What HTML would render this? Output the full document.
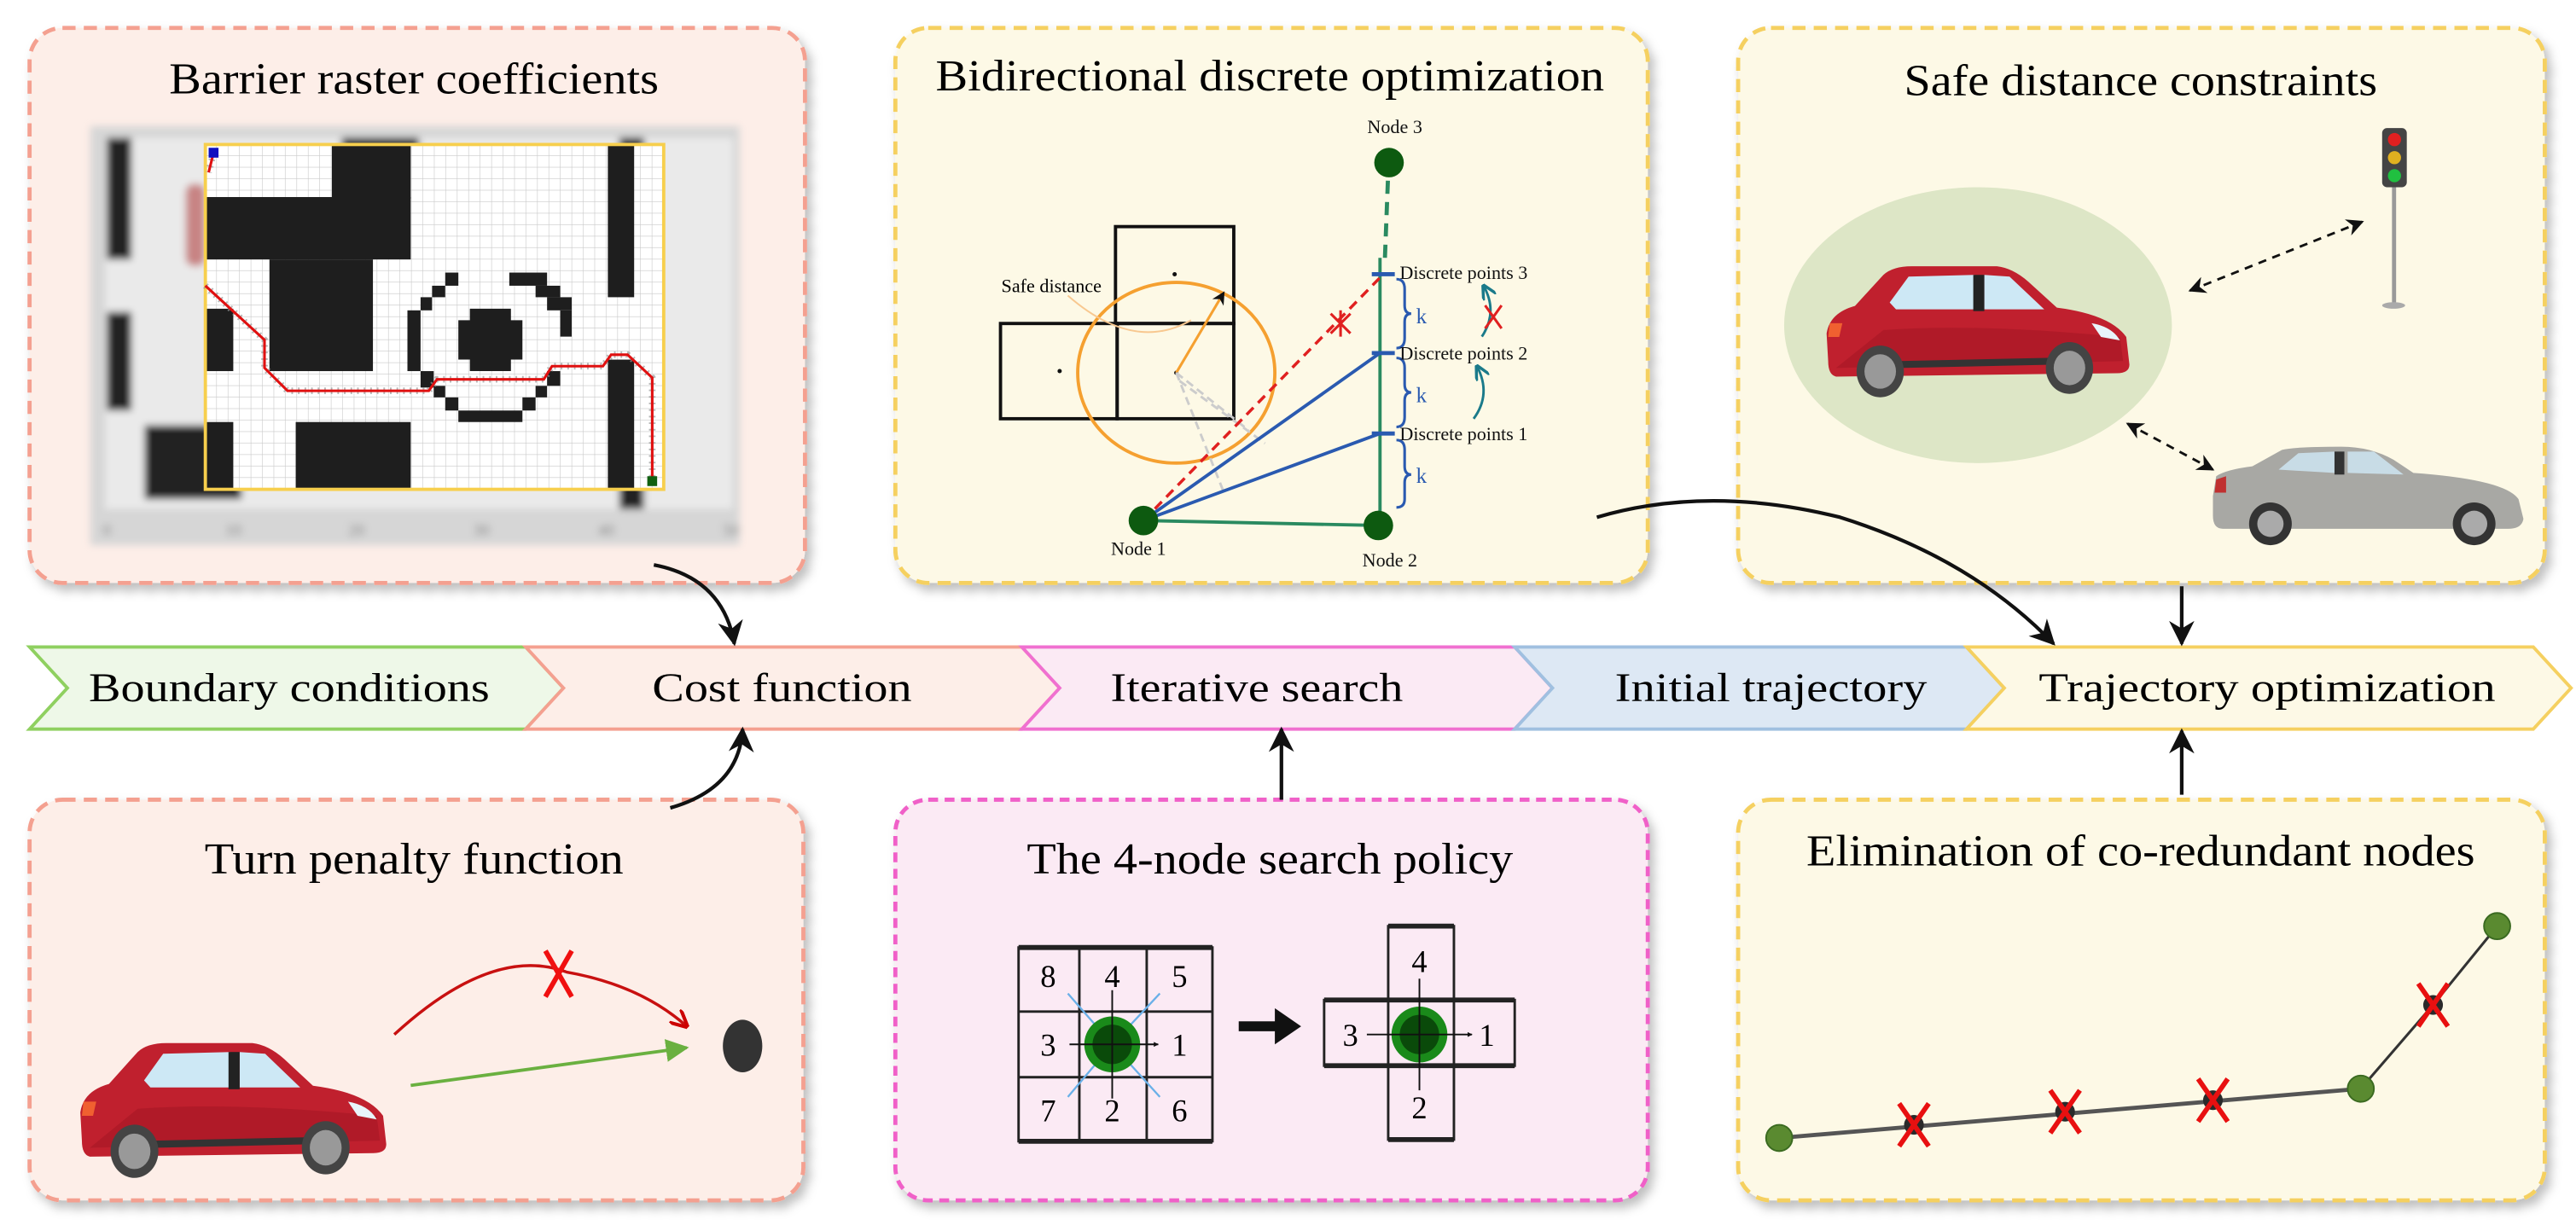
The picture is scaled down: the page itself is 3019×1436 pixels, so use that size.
<!DOCTYPE html>
<html><head><meta charset="utf-8"><style>
html,body{margin:0;padding:0;background:#fff}
svg{display:block}
text{font-family:"Liberation Serif",serif}
</style></head><body>
<svg width="3019" height="1436" viewBox="0 0 1568 746" preserveAspectRatio="none" xmlns="http://www.w3.org/2000/svg">
<defs>
<filter id="sh" x="-5%" y="-5%" width="115%" height="115%"><feDropShadow dx="3" dy="4" stdDeviation="3" flood-color="#000" flood-opacity="0.25"/></filter>
<filter id="bl"><feGaussianBlur stdDeviation="2.2"/></filter>
<pattern id="grid" x="125" y="88" width="6.975" height="7" patternUnits="userSpaceOnUse">
<rect width="6.975" height="7" fill="#fff"/><path d="M6.975 0V7M0 7H6.975" stroke="#c8c8c8" stroke-width="0.6"/></pattern>
<marker id="ah" viewBox="0 0 10 10" refX="9" refY="5" markerWidth="7" markerHeight="7" orient="auto-start-reverse"><path d="M0 0L10 5L0 10L3 5Z" fill="#111"/></marker>
<marker id="ahs" viewBox="0 0 10 10" refX="9" refY="5" markerWidth="5" markerHeight="5" orient="auto-start-reverse"><path d="M0 0L10 5L0 10L3 5Z" fill="#111"/></marker>
<marker id="ahr" viewBox="0 0 10 10" refX="9" refY="5" markerWidth="6" markerHeight="6" orient="auto"><path d="M0 0L10 5L0 10" fill="none" stroke="#c00" stroke-width="2"/></marker>
<marker id="ahg" viewBox="0 0 10 10" refX="9" refY="5" markerWidth="7" markerHeight="7" orient="auto"><path d="M0 0L10 5L0 10Z" fill="#6ab040"/></marker>
<marker id="aht" viewBox="0 0 10 10" refX="9" refY="5" markerWidth="6" markerHeight="6" orient="auto"><path d="M0 0L10 5L0 10" fill="none" stroke="#1a7a8a" stroke-width="2"/></marker>
<marker id="ahb" viewBox="0 0 10 10" refX="9" refY="5" markerWidth="3" markerHeight="3" orient="auto"><path d="M0 0L10 5L0 10Z" fill="#111"/></marker>
<g id="redcar">
<path d="M5 58 L4 42 Q6 30 22 26 L40 8 Q46 3 58 3 L112 3 Q122 4 132 12 L150 27 Q184 31 194 44 L196 60 Q196 65 188 65 L10 67 Q5 66 5 58Z" fill="#c0202e"/>
<path d="M40 40 Q100 36 190 44 L192 58 L10 62Z" fill="#a51724" opacity="0.6"/>
<path d="M44 24 L56 9 L98 8 L98 28 L48 28Z" fill="#cde8f5"/>
<path d="M104 8 L120 9 L142 28 L104 28Z" fill="#cde8f5"/>
<rect x="97" y="8" width="7" height="21" fill="#222"/>
<path d="M172 36 Q185 38 190 46 L178 44Z" fill="#e8f4fa"/>
<path d="M6 36 L14 36 L12 44 L5 44Z" fill="#f06030"/>
<path d="M50 60 L150 58" stroke="#333" stroke-width="4"/>
<circle cx="38" cy="64" r="15" fill="#444"/><circle cx="38" cy="64" r="10" fill="#999"/>
<circle cx="158" cy="62" r="15" fill="#444"/><circle cx="158" cy="62" r="10" fill="#999"/>
</g>
<g id="cross"><path d="M-9 -13L9 13M9 -13L-9 13" stroke="#e81010" stroke-width="3"/></g>
</defs>

<!-- TOP BOXES -->
<rect x="18" y="17" width="472" height="338" rx="20" fill="#fdeee8" stroke="#f4a090" stroke-width="2.5" stroke-dasharray="8 5" filter="url(#sh)"/>
<rect x="545" y="17" width="458" height="338" rx="20" fill="#fdf9e6" stroke="#f5d060" stroke-width="2.5" stroke-dasharray="8 5" filter="url(#sh)"/>
<rect x="1058" y="17" width="491" height="338" rx="20" fill="#fdf9e6" stroke="#f5d060" stroke-width="2.5" stroke-dasharray="8 5" filter="url(#sh)"/>
<!-- BOTTOM BOXES -->
<rect x="18" y="487" width="471" height="244" rx="20" fill="#fdeee8" stroke="#f4a090" stroke-width="2.5" stroke-dasharray="8 5" filter="url(#sh)"/>
<rect x="545" y="487" width="458" height="244" rx="20" fill="#fbeaf4" stroke="#f060c8" stroke-width="2.5" stroke-dasharray="6 4" filter="url(#sh)"/>
<rect x="1058" y="487" width="491" height="244" rx="20" fill="#fdf9e6" stroke="#f5d060" stroke-width="2.5" stroke-dasharray="8 5" filter="url(#sh)"/>

<!-- Titles -->
<text x="252" y="57" font-size="27" text-anchor="middle" textLength="298" lengthAdjust="spacingAndGlyphs">Barrier raster coefficients</text>
<text x="773" y="55" font-size="27" text-anchor="middle" textLength="407" lengthAdjust="spacingAndGlyphs">Bidirectional discrete optimization</text>
<text x="1303" y="58" font-size="27" text-anchor="middle" textLength="288" lengthAdjust="spacingAndGlyphs">Safe distance constraints</text>
<text x="252" y="532" font-size="27" text-anchor="middle" textLength="255" lengthAdjust="spacingAndGlyphs">Turn penalty function</text>
<text x="773" y="532" font-size="27" text-anchor="middle" textLength="296" lengthAdjust="spacingAndGlyphs">The 4-node search policy</text>
<text x="1303" y="527" font-size="27" text-anchor="middle" textLength="407" lengthAdjust="spacingAndGlyphs">Elimination of co-redundant nodes</text>

<!-- BOX1 grid -->
<g filter="url(#bl)">
<rect x="55" y="77" width="395" height="255" fill="#d6d6d6"/>
<rect x="64" y="84" width="382" height="226" fill="#eaeaea"/>
<rect x="65" y="84" width="15" height="74" fill="#222"/>
<rect x="65" y="190" width="15" height="60" fill="#222"/>
<rect x="88" y="259" width="59" height="45" fill="#222"/>
<rect x="208" y="84" width="47" height="8" fill="#222"/>
<rect x="377" y="84" width="15" height="226" fill="#222"/>
<rect x="113" y="112" width="12" height="50" rx="5" fill="#b04040" opacity="0.6"/>
<g font-size="10" fill="#777" text-anchor="middle"><text x="65" y="326">0</text><text x="142" y="326">10</text><text x="217" y="326">20</text><text x="293" y="326">30</text><text x="369" y="326">40</text><text x="445" y="326">50</text></g>
</g>
<rect x="125" y="88" width="279" height="210" fill="url(#grid)"/>
<g fill="#1e1e1e">
<rect x="202" y="88" width="48" height="33"/>
<rect x="125" y="120" width="125" height="38"/>
<rect x="164" y="158" width="63" height="68"/>
<rect x="125" y="188" width="17" height="38"/>
<rect x="370" y="88" width="16" height="93"/>
<rect x="370" y="219" width="16" height="79"/>
<rect x="125" y="257" width="17" height="41"/>
<rect x="180" y="257" width="70" height="41"/>
<!-- ring -->
<rect x="271" y="166" width="8" height="8"/><rect x="263" y="174" width="8" height="7"/><rect x="256" y="181" width="7" height="8"/>
<rect x="248" y="189" width="8" height="37"/>
<rect x="256" y="226" width="8" height="10"/><rect x="264" y="235" width="7" height="7"/><rect x="271" y="242" width="8" height="8"/>
<rect x="279" y="250" width="39" height="7"/>
<rect x="318" y="242" width="8" height="8"/><rect x="326" y="235" width="7" height="7"/><rect x="333" y="226" width="8" height="9"/>
<rect x="310" y="166" width="23" height="8"/><rect x="326" y="174" width="15" height="7"/><rect x="333" y="181" width="15" height="8"/><rect x="341" y="189" width="7" height="16"/>
<path d="M286 188 L311 188 L311 195 L318 195 L318 219 L311 219 L311 226 L286 226 L286 219 L279 219 L279 195 L286 195Z"/>
</g>
<rect x="125" y="88" width="279" height="210" fill="none" stroke="#f7cf4d" stroke-width="2"/>
<path d="M130 93 L127 105 M125 174 L161 207 L161 224 L175 238 L261 238 L266 231 L331 231 L336 223 L367 223 L372 216 L382 216 L397 230 L397 292" fill="none" stroke="#999" stroke-width="4" stroke-dasharray="1 3" opacity="0.7"/>
<path d="M130 93 L127 105 M125 174 L161 207 L161 224 L175 238 L261 238 L266 231 L331 231 L336 223 L367 223 L372 216 L382 216 L397 230 L397 292" fill="none" stroke="#e01010" stroke-width="1.6"/>
<rect x="127" y="90" width="6" height="6" fill="#1010c0"/>
<rect x="394" y="290" width="6" height="6" fill="#106010"/>

<!-- BOX2 diagram -->
<g fill="none" stroke="#111" stroke-width="2">
<rect x="679" y="138" width="72" height="59"/>
<rect x="609" y="197" width="71" height="58"/>
<rect x="680" y="197" width="71" height="58"/>
</g>
<g fill="#111"><circle cx="715" cy="167" r="1.3"/><circle cx="645" cy="226" r="1.3"/><circle cx="716" cy="227" r="1.3"/></g>
<ellipse cx="716" cy="227" rx="60" ry="55" fill="none" stroke="#f5a030" stroke-width="2"/>
<path d="M716 227 L745 178" stroke="#f5a030" stroke-width="1.6" marker-end="url(#ahs)" fill="none"/>
<path d="M650 180 Q690 215 725 195" stroke="#f8c890" stroke-width="1" fill="none"/>
<text x="640" y="178" font-size="11.5" text-anchor="middle">Safe distance</text>
<path d="M716 227 L760 262 M716 227 L745 300 M718 232 L770 270" stroke="#ccc" stroke-width="1.5" stroke-dasharray="5 3" fill="none"/>
<path d="M839 320 L696 317" stroke="#2a8a60" stroke-width="2"/>
<path d="M840 320 L840 157" stroke="#2a8a60" stroke-width="2"/>
<path d="M843 157 L845 105" stroke="#2a8a60" stroke-width="2.5" stroke-dasharray="8 5"/>
<path d="M696 317 L840 215 M696 317 L840 264" stroke="#2a5ab0" stroke-width="2"/>
<path d="M696 317 L842 167" stroke="#e02020" stroke-width="1.8" stroke-dasharray="6 4"/>
<g transform="translate(816,197)"><path d="M-6 -6L6 6M6 -6L-6 6M0 -8L0 8" stroke="#e02020" stroke-width="1.6"/></g>
<circle cx="845.5" cy="99" r="9" fill="#0d5a10"/>
<circle cx="696" cy="317" r="9" fill="#0d5a10"/>
<circle cx="839" cy="320" r="9" fill="#0d5a10"/>
<g stroke="#2a5ab0" stroke-width="2.5"><path d="M835 167H849M835 215H849M835 264H849"/></g>
<g fill="none" stroke="#2a5ab0" stroke-width="1.6">
<path d="M850 170 Q855 170 855 176 L855 186 Q855 191 859 191 Q855 191 855 196 L855 206 Q855 212 850 212"/>
<path d="M850 218 Q855 218 855 224 L855 234 Q855 239 859 239 Q855 239 855 244 L855 254 Q855 260 850 260"/>
<path d="M850 268 Q855 268 855 274 L855 284 Q855 289 859 289 Q855 289 855 294 L855 304 Q855 309 850 309"/>
</g>
<g font-size="13" fill="#2a5ab0"><text x="862" y="197">k</text><text x="862" y="245">k</text><text x="862" y="294">k</text></g>
<g font-size="11.5" fill="#111">
<text x="852" y="170">Discrete points 3</text>
<text x="852" y="219">Discrete points 2</text>
<text x="852" y="268">Discrete points 1</text>
<text x="849" y="81" text-anchor="middle">Node 3</text>
<text x="693" y="338" text-anchor="middle">Node 1</text>
<text x="846" y="345" text-anchor="middle">Node 2</text>
</g>
<path d="M902 205 Q912 190 903 174" fill="none" stroke="#1a7a8a" stroke-width="1.5" marker-end="url(#aht)"/>
<path d="M904 186L914 200M914 186L904 200" stroke="#e02020" stroke-width="1.6"/>
<path d="M897 255 Q908 240 899 223" fill="none" stroke="#1a7a8a" stroke-width="1.5" marker-end="url(#aht)"/>

<!-- BOX3 -->
<ellipse cx="1204" cy="198" rx="118" ry="84" fill="#dde6c6"/>
<use href="#redcar" transform="translate(1108,159) scale(0.96,1.05)"/>
<rect x="1456" y="110" width="2.5" height="75" fill="#999"/>
<ellipse cx="1457" cy="186" rx="7" ry="2" fill="#aaa"/>
<rect x="1450" y="78" width="15" height="36" rx="3" fill="#444"/>
<circle cx="1457.5" cy="85" r="4" fill="#e02020"/><circle cx="1457.5" cy="96" r="4" fill="#e0b020"/><circle cx="1457.5" cy="107" r="4" fill="#20c040"/>
<path d="M1333 177 L1438 135" stroke="#111" stroke-width="1.5" stroke-dasharray="5 4" marker-start="url(#ah)" marker-end="url(#ah)"/>
<path d="M1295 258 L1347 286" stroke="#111" stroke-width="1.5" stroke-dasharray="5 4" marker-start="url(#ah)" marker-end="url(#ah)"/>
<g transform="translate(1345,272)">
<path d="M2 30 L4 18 Q10 14 26 12 L44 2 Q52 0 80 0 Q98 0 112 8 L124 16 Q180 20 188 32 L191 44 Q190 50 182 50 L8 50 Q2 50 2 42Z" fill="#a8a8a4"/>
<path d="M42 14 L54 4 L76 3 L76 16Z M84 3 L100 3 L118 17 L84 16Z" fill="#c8dce6"/>
<rect x="76" y="3" width="6" height="14" fill="#333"/>
<path d="M4 20 L10 18 L10 28 L3 28Z" fill="#c03030"/>
<circle cx="37" cy="47" r="13" fill="#333"/><circle cx="37" cy="47" r="8" fill="#aaa"/>
<circle cx="161" cy="47" r="13" fill="#333"/><circle cx="161" cy="47" r="8" fill="#aaa"/>
</g>

<!-- BANNER -->
<path d="M18 394 L320 394 L343 419 L320 444 L18 444 L41 419Z" fill="#eef8e8" stroke="#8fd060" stroke-width="2"/>
<path d="M320 394 L622 394 L645 419 L622 444 L320 444 L343 419Z" fill="#fdeee8" stroke="#f4a090" stroke-width="2"/>
<path d="M622 394 L922 394 L945 419 L922 444 L622 444 L645 419Z" fill="#fbeaf4" stroke="#f070d0" stroke-width="2"/>
<path d="M922 394 L1197 394 L1220 419 L1197 444 L922 444 L945 419Z" fill="#dde8f4" stroke="#a0c0e0" stroke-width="2"/>
<path d="M1197 394 L1542 394 L1565 419 L1542 444 L1197 444 L1220 419Z" fill="#fdf9e6" stroke="#f5d060" stroke-width="2"/>
<g font-size="25">
<text x="176" y="427" text-anchor="middle" textLength="244" lengthAdjust="spacingAndGlyphs">Boundary conditions</text>
<text x="476" y="427" text-anchor="middle" textLength="158" lengthAdjust="spacingAndGlyphs">Cost function</text>
<text x="765" y="427" text-anchor="middle" textLength="178" lengthAdjust="spacingAndGlyphs">Iterative search</text>
<text x="1078" y="427" text-anchor="middle" textLength="190" lengthAdjust="spacingAndGlyphs">Initial trajectory</text>
<text x="1380" y="427" text-anchor="middle" textLength="278" lengthAdjust="spacingAndGlyphs">Trajectory optimization</text>
</g>

<!-- CONNECTORS -->
<g fill="none" stroke="#111" stroke-width="2.2">
<path d="M398 344 Q440 352 447 392" marker-end="url(#ah)"/>
<path d="M408 492 Q450 480 452 444" marker-end="url(#ah)"/>
<path d="M780 487 L780 444" marker-end="url(#ah)"/>
<path d="M1328 484 L1328 445" marker-end="url(#ah)"/>
<path d="M1328 357 L1328 392" marker-end="url(#ah)"/>
<path d="M972 315 Q1040 295 1120 315 Q1200 340 1250 392" marker-end="url(#ah)"/>
</g>

<!-- BOX4 -->
<use href="#redcar" transform="translate(45,632) scale(0.97,1.08)"/>
<path d="M240 630 Q300 575 345 592 Q390 600 418 625" fill="none" stroke="#c81010" stroke-width="1.8" marker-end="url(#ahr)"/>
<g transform="translate(340,593)"><path d="M-8 -14L8 14M8 -14L-8 14" stroke="#f01010" stroke-width="3"/></g>
<path d="M250 661 L418 638" stroke="#6ab040" stroke-width="2" marker-end="url(#ahg)"/>
<ellipse cx="452" cy="637" rx="12" ry="16" fill="#333"/>

<!-- BOX5 -->
<g fill="none" stroke="#222" stroke-width="1.5">
<rect x="620" y="577" width="118" height="118"/>
<path d="M657 577V695M698 577V695M620 616H738M620 656H738"/>
<path d="M620 577H738M620 695H738" stroke-width="3"/>
<rect x="845" y="564" width="40" height="130"/>
<rect x="806" y="609" width="116" height="40"/>
<path d="M845 564H885M845 694H885M806 609H922M806 649H922" stroke-width="3"/>
</g>
<g stroke="#6ab0e8" stroke-width="1.2"><path d="M677 636 L650 605 M677 636 L706 605 M677 636 L650 668 M677 636 L706 668"/></g>
<circle cx="677" cy="636" r="17" fill="#1a8a1a"/><circle cx="677" cy="636" r="12" fill="#0a4a0a"/>
<g stroke="#111" stroke-width="1"><path d="M677 636 L677 603 M677 636 L677 669 M677 636 L651 636 M677 636 L705 636" marker-end="url(#ahb)"/></g>
<circle cx="864" cy="630" r="17" fill="#1a8a1a"/><circle cx="864" cy="630" r="12" fill="#0a4a0a"/>
<g stroke="#111" stroke-width="1"><path d="M864 630 L864 596 M864 630 L864 664 M864 630 L832 630 M864 630 L896 630" marker-end="url(#ahb)"/></g>
<g font-size="19" text-anchor="middle">
<text x="638" y="601">8</text><text x="677" y="601">4</text><text x="718" y="601">5</text>
<text x="638" y="643">3</text><text x="718" y="643">1</text>
<text x="638" y="683">7</text><text x="677" y="683">2</text><text x="718" y="683">6</text>
<text x="864" y="592">4</text><text x="822" y="637">3</text><text x="905" y="637">1</text><text x="864" y="681">2</text>
</g>
<path d="M754 622 L776 622 L776 614 L792 625 L776 636 L776 628 L754 628Z" fill="#111"/>

<!-- BOX6 -->
<path d="M1083 693 L1437 663 L1481 612 L1520 564" fill="none" stroke="#333" stroke-width="1.6"/>
<path d="M1083 693 L1437 663" fill="none" stroke="#555" stroke-width="2.5"/>
<g fill="#5a8a30" stroke="#3a6a20" stroke-width="1"><circle cx="1083" cy="693" r="8"/><circle cx="1437" cy="663" r="8"/><circle cx="1520" cy="564" r="8"/></g>
<g fill="#2a2a2a"><circle cx="1165" cy="685" r="6"/><circle cx="1257" cy="677" r="6"/><circle cx="1347" cy="670" r="6"/><circle cx="1481" cy="612" r="6"/></g>
<use href="#cross" transform="translate(1165,685)"/>
<use href="#cross" transform="translate(1257,677)"/>
<use href="#cross" transform="translate(1347,670)"/>
<use href="#cross" transform="translate(1481,612)"/>
</svg>
</body></html>
